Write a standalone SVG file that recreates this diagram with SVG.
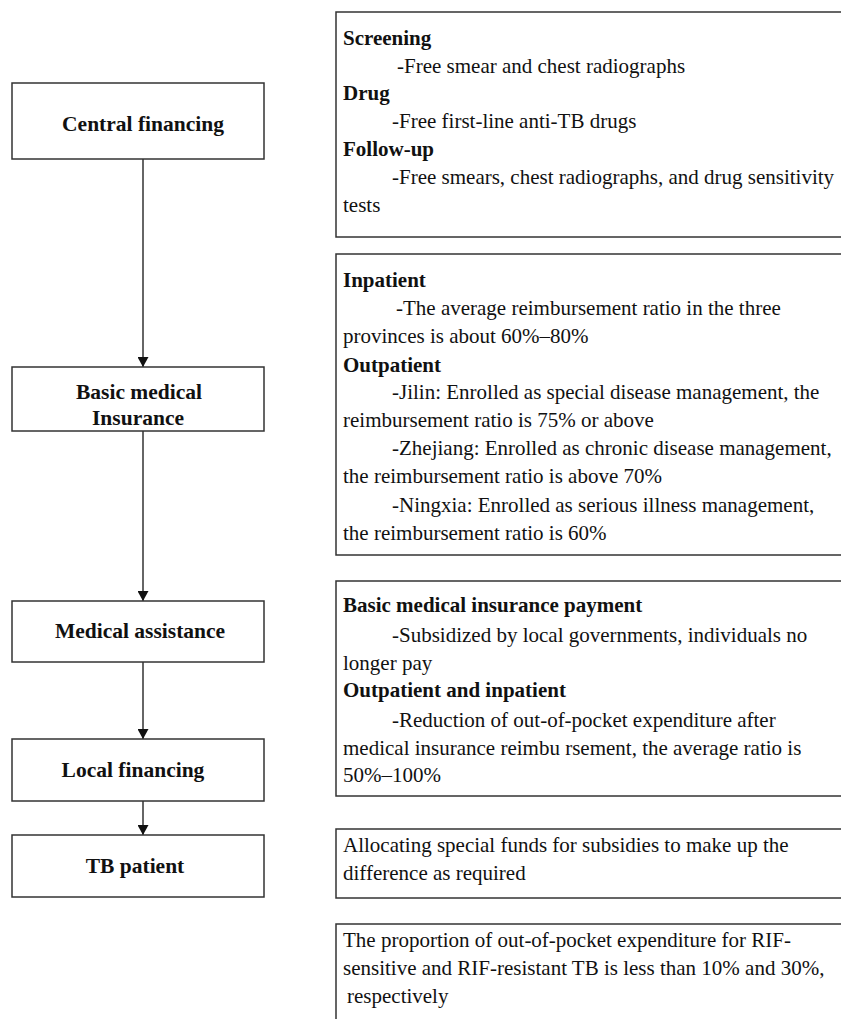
<svg xmlns="http://www.w3.org/2000/svg" width="841" height="1019" viewBox="0 0 841 1019">
<style>
.box{fill:#fff;stroke:#333;stroke-width:1.5}
.lbl{font-family:'Liberation Serif','Times New Roman',serif;font-size:21.5px;font-weight:bold;fill:#111;text-anchor:middle}
.t{font-family:'Liberation Serif','Times New Roman',serif;font-size:21px;fill:#111}
.b{font-weight:bold}
.conn{stroke:#333;stroke-width:1.5;fill:none}
</style>
<defs>
<marker id="ah" markerWidth="10" markerHeight="11" refX="10" refY="5.5" orient="auto" markerUnits="userSpaceOnUse">
<path d="M0,0 L10,5.5 L0,11 Z" fill="#111"/>
</marker>
</defs>
<rect width="841" height="1019" fill="#fff"/>
<g id="connectors">
<line class="conn" x1="143" y1="159" x2="143" y2="367" marker-end="url(#ah)"/>
<line class="conn" x1="143" y1="431" x2="143" y2="601" marker-end="url(#ah)"/>
<line class="conn" x1="143" y1="662" x2="143" y2="739" marker-end="url(#ah)"/>
<line class="conn" x1="143" y1="801" x2="143" y2="835" marker-end="url(#ah)"/>
</g>
<g id="central-financing">
<rect class="box" x="12" y="83" width="252" height="76"/>
<text class="lbl" x="143" y="131">Central financing</text>
</g>
<g id="basic-medical-insurance">
<rect class="box" x="12" y="367" width="252" height="64"/>
<text class="lbl" x="139" y="399">Basic medical</text>
<text class="lbl" x="138" y="425">Insurance</text>
</g>
<g id="medical-assistance">
<rect class="box" x="12" y="601" width="252" height="61"/>
<text class="lbl" x="140" y="638">Medical assistance</text>
</g>
<g id="local-financing">
<rect class="box" x="12" y="739" width="252" height="62"/>
<text class="lbl" x="133" y="777">Local financing</text>
</g>
<g id="tb-patient">
<rect class="box" x="12" y="835" width="252" height="62"/>
<text class="lbl" x="135" y="873">TB patient</text>
</g>
<g id="central-details">
<rect class="box" x="336" y="12" width="520" height="225"/>
<text class="t b" x="343" y="45">Screening</text>
<text class="t" x="397" y="73">-Free smear and chest radiographs</text>
<text class="t b" x="343" y="100">Drug</text>
<text class="t" x="392" y="128">-Free first-line anti-TB drugs</text>
<text class="t b" x="343" y="156">Follow-up</text>
<text class="t" x="392" y="184">-Free smears, chest radiographs, and drug sensitivity</text>
<text class="t" x="343" y="212">tests</text>
</g>
<g id="insurance-details">
<rect class="box" x="336" y="254" width="520" height="301"/>
<text class="t b" x="343" y="287">Inpatient</text>
<text class="t" x="396" y="315">-The average reimbursement ratio in the three</text>
<text class="t" x="343" y="343">provinces is about 60%–80%</text>
<text class="t b" x="343" y="372">Outpatient</text>
<text class="t" x="392" y="399">-Jilin: Enrolled as special disease management, the</text>
<text class="t" x="343" y="427">reimbursement ratio is 75% or above</text>
<text class="t" x="392" y="455">-Zhejiang: Enrolled as chronic disease management,</text>
<text class="t" x="343" y="483">the reimbursement ratio is above 70%</text>
<text class="t" x="392" y="512">-Ningxia: Enrolled as serious illness management,</text>
<text class="t" x="343" y="540">the reimbursement ratio is 60%</text>
</g>
<g id="assistance-details">
<rect class="box" x="336" y="581" width="520" height="215"/>
<text class="t b" x="343" y="612">Basic medical insurance payment</text>
<text class="t" x="392" y="642">-Subsidized by local governments, individuals no</text>
<text class="t" x="343" y="670">longer pay</text>
<text class="t b" x="343" y="697">Outpatient and inpatient</text>
<text class="t" x="392" y="727">-Reduction of out-of-pocket expenditure after</text>
<text class="t" x="343" y="755">medical insurance reimbu rsement, the average ratio is</text>
<text class="t" x="343" y="782">50%–100%</text>
</g>
<g id="local-details">
<rect class="box" x="336" y="829" width="520" height="69"/>
<text class="t" x="343" y="852">Allocating special funds for subsidies to make up the</text>
<text class="t" x="343" y="880">difference as required</text>
</g>
<g id="patient-details">
<rect class="box" x="336" y="924" width="520" height="120"/>
<text class="t" x="343" y="947">The proportion of out-of-pocket expenditure for RIF-</text>
<text class="t" x="343" y="975">sensitive and RIF-resistant TB is less than 10% and 30%,</text>
<text class="t" x="347" y="1003">respectively</text>
</g>
</svg>
